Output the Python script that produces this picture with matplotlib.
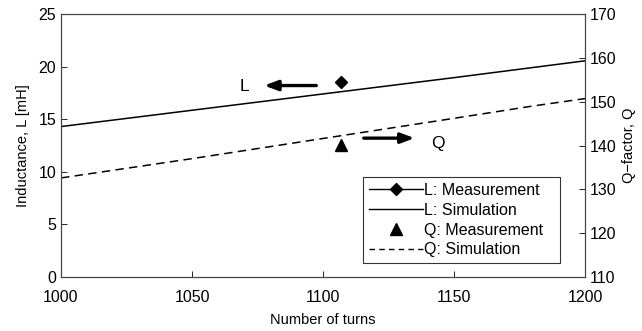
import matplotlib
matplotlib.use("Agg")
import matplotlib.pyplot as plt
from matplotlib.lines import Line2D

plt.rcParams['font.family'] = ['Liberation Sans', 'DejaVu Sans']

turns_sim = [1000, 1050, 1100, 1150, 1200]
L_sim = [14.3, 15.85, 17.4, 18.95, 20.55]
turns_qsim = [1000, 1050, 1100, 1150, 1180, 1200]
Q_sim = [132.6, 137.0, 141.6, 146.2, 149.0, 150.7]
turns_meas = [1107]
L_meas = [18.5]
Q_meas = [140.2]

fig = plt.figure(figsize=(6.42, 3.31), dpi=100)
ax = fig.add_axes([61/642, 1-277/331, (585-61)/642, (277-14)/331])
ax2 = ax.twinx()

ax.plot(turns_sim, L_sim, color='black', lw=1.1)
ax.plot(turns_meas, L_meas, marker='D', ms=6, color='black', ls='none')
ax2.plot(turns_qsim, Q_sim, color='black', lw=1.1, ls=(0, (5.5, 3.5)))
ax2.plot(turns_meas, Q_meas, marker='^', ms=8, color='black', ls='none')

ax.set_xlim(1000, 1200)
ax.set_ylim(0, 25)
ax2.set_ylim(110, 170)
ax.set_xticks([1000, 1050, 1100, 1150, 1200])
ax.set_yticks([0, 5, 10, 15, 20, 25])
ax2.set_yticks([110, 120, 130, 140, 150, 160, 170])
ax.tick_params(direction='in', labelsize=11.5, length=4, width=0.6)
ax2.tick_params(direction='in', labelsize=11.5, length=4, width=0.6)
ax.tick_params(axis='x', pad=9)
ax.set_xlabel('Number of turns', fontsize=10.5, labelpad=6)
ax.set_ylabel('Inductance, L [mH]', fontsize=10.5, labelpad=6)
ax2.set_ylabel('Q\u2212factor, Q', fontsize=10.5, labelpad=4)
for a in (ax, ax2):
    for s in a.spines.values():
        s.set_linewidth(0.8)
        s.set_color('#444444')

ax.annotate('', xy=(1076.5, 18.2), xytext=(1098.5, 18.2),
            arrowprops=dict(arrowstyle='-|>,head_length=0.8,head_width=0.3', color='black', lw=2.4))
ax.text(1070, 18.1, 'L', fontsize=12.5, ha='center', va='center')
ax.annotate('', xy=(1136, 13.2), xytext=(1114.5, 13.2),
            arrowprops=dict(arrowstyle='-|>,head_length=0.8,head_width=0.3', color='black', lw=2.4))
ax.text(1144, 12.7, 'Q', fontsize=12.5, ha='center', va='center')

handles = [
    Line2D([], [], color='black', lw=1, marker='D', ms=6),
    Line2D([], [], color='black', lw=1),
    Line2D([], [], color='black', ls='none', marker='^', ms=8),
    Line2D([], [], color='black', lw=1, ls=(0, (4, 3))),
]
labels = ['L: Measurement', 'L: Simulation', 'Q: Measurement', 'Q: Simulation']
leg = ax2.legend(handles, labels, loc='lower left', bbox_to_anchor=((363-61)/524, (277-263)/263, (560-363)/524, (263-175)/263),
                 mode='expand', frameon=True, fancybox=False, edgecolor='black', fontsize=11.5,
                 handlelength=3.4, handletextpad=0.1, labelspacing=0.3, borderpad=0.35, borderaxespad=0)
leg.get_frame().set_linewidth(0.8)

fig.savefig('out.png', dpi=100)
